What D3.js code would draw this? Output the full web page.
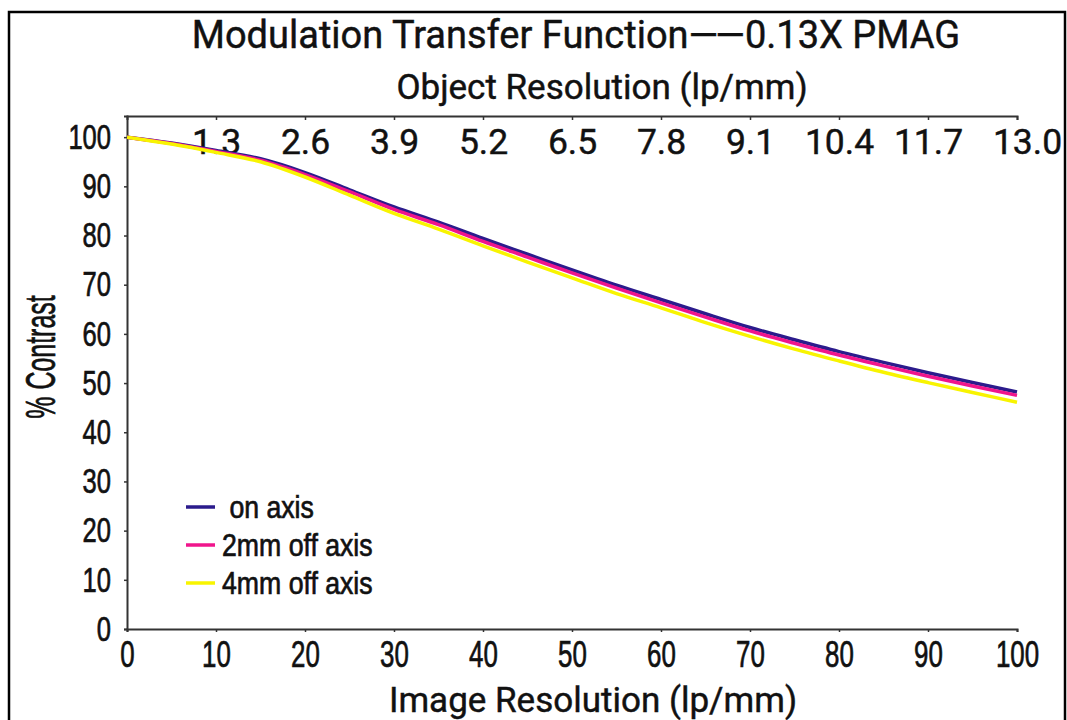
<!DOCTYPE html>
<html>
<head>
<meta charset="utf-8">
<script src="https://cdn.jsdelivr.net/npm/d3@7"></script>
<style>
  body { margin: 0; background: #fff; }
  .narrow { font-family: "Liberation Sans", Arial, sans-serif; stroke: #111; stroke-width: 0.7px; }
  .wide { font-family: Roboto, "Liberation Sans", sans-serif; stroke: #111; stroke-width: 0.45px; }
</style>
</head>
<body>
<div id="container"></div>
<script>
// image resolution (lp/mm) sample points
let imageRes = [0, 5, 10, 15, 20, 25, 30, 35, 40, 45, 50, 55, 60, 65, 70, 75, 80, 85, 90, 95, 100];
let onAxis = [100, 98.8, 97.3, 95.6, 92.8, 89.3, 85.8, 82.7, 79.4, 76.2, 73.0, 69.9, 67.0, 64.1, 61.3, 58.8, 56.4, 54.2, 52.1, 50.1, 48.2];
let off2mm = [100, 98.7, 97.1, 95.3, 92.4, 88.9, 85.3, 82.2, 78.8, 75.6, 72.4, 69.3, 66.3, 63.4, 60.6, 58.1, 55.7, 53.5, 51.4, 49.4, 47.5];
let off4mm = [100, 98.6, 96.9, 95.0, 91.9, 88.2, 84.5, 81.3, 77.9, 74.6, 71.4, 68.2, 65.3, 62.3, 59.5, 56.9, 54.5, 52.2, 50.1, 48.1, 46.1];
let seriesNames = [' on axis', '2mm off axis', '4mm off axis'];
let seriesColors = ['#2b1b8c', '#f0158c', '#f8f400'];
let xTicks = [0, 10, 20, 30, 40, 50, 60, 70, 80, 90, 100];
let yTicks = [0, 10, 20, 30, 40, 50, 60, 70, 80, 90, 100];
let objTicks = [1.3, 2.6, 3.9, 5.2, 6.5, 7.8, 9.1, 10.4, 11.7, 13.0];

let viz = d3.select('#container')
    .append('svg')
    .attr('width', 1067)
    .attr('height', 720)
    ;

// squeeze text horizontally, keeps its anchor point
function condense(sel, sx) {
    sel.each(function () {
        let t = d3.select(this);
        let xv = +t.attr('x') || 0;
        t.attr('x', xv / sx).attr('transform', 'scale(' + sx + ',1)');
    });
}

// outer frame
viz.append('rect')
    .attr('x', 9)
    .attr('y', 12)
    .attr('width', 1056)
    .attr('height', 730)
    .attr('fill', 'none')
    .attr('stroke', 'black')
    .attr('stroke-width', 2.5);

let x = d3.scaleLinear().domain([0, 100]).range([127, 1017]);
let xObj = d3.scaleLinear().domain([0, 13]).range([127, 1017]);
let y = d3.scaleLinear().domain([0, 104.3]).range([629, 116]);

// bottom axis
let bottomAxis = viz.append('g')
    .attr('transform', 'translate(0,629)')
    .call(d3.axisBottom(x).tickValues(xTicks).tickSize(3).tickPadding(9).tickFormat(d3.format('d')));
bottomAxis.selectAll('text').attr('class', 'narrow').attr('font-size', 37).attr('fill', '#111')
    .call(condense, 0.7);

// left axis
let leftAxis = viz.append('g')
    .attr('transform', 'translate(127,0)')
    .call(d3.axisLeft(y).tickValues(yTicks).tickSize(3).tickPadding(13).tickFormat(d3.format('d')));
leftAxis.selectAll('text').attr('class', 'narrow').attr('font-size', 35).attr('fill', '#111')
    .call(condense, 0.73);

// top axis (object resolution), labels hang inside the plot
let topAxis = viz.append('g')
    .attr('transform', 'translate(0,116)')
    .call(d3.axisBottom(xObj).tickValues(objTicks).tickSize(4).tickPadding(9).tickFormat(d3.format('.1f')));
topAxis.selectAll('text').attr('class', 'wide').attr('font-size', 35.5).attr('fill', '#111');
topAxis.selectAll('text').filter(d => d === 13.0).attr('x', 10);

viz.selectAll('.domain').attr('stroke', '#333').attr('stroke-width', 2);
viz.selectAll('.tick line').attr('stroke', '#333').attr('stroke-width', 1.5);

// curves
let allSeries = [onAxis, off2mm, off4mm];
let line = d3.line()
    .x((d, i) => x(imageRes[i]))
    .y(d => y(d))
    .curve(d3.curveMonotoneX);

viz.selectAll('.curve').data(allSeries).enter()
    .append('path')
    .attr('class', 'curve')
    .attr('d', line)
    .attr('fill', 'none')
    .attr('stroke', (d, i) => seriesColors[i])
    .attr('stroke-width', 3.5);

// legend
let legend = viz.selectAll('.legend').data(seriesNames).enter()
    .append('g')
    .attr('class', 'legend')
    .attr('transform', (d, i) => 'translate(186,' + (507 + i * 38) + ')');

legend.append('line')
    .attr('x1', 0).attr('x2', 29)
    .attr('stroke', (d, i) => seriesColors[i])
    .attr('stroke-width', 3.5);

legend.append('text')
    .attr('class', 'narrow')
    .attr('x', 36)
    .attr('y', 11)
    .attr('font-size', 31)
    .attr('xml:space', 'preserve')
    .attr('fill', '#111')
    .text(d => d)
    .call(condense, 0.86);

// titles
let title = viz.append('text')
    .attr('class', 'wide')
    .attr('x', 576).attr('y', 48)
    .attr('text-anchor', 'middle')
    .attr('font-size', 38)
    .attr('fill', '#111');
title.append('tspan').text('Modulation Transfer Function');
title.append('tspan').attr('letter-spacing', -3).text('\u2014\u2014');
title.append('tspan').attr('dx', 3).text('0.13X PMAG');

viz.append('text')
    .attr('class', 'wide')
    .attr('x', 602).attr('y', 99)
    .attr('text-anchor', 'middle')
    .attr('font-size', 35)
    .attr('fill', '#111')
    .text('Object Resolution (lp/mm)');

viz.append('text')
    .attr('class', 'wide')
    .attr('x', 593).attr('y', 712)
    .attr('text-anchor', 'middle')
    .attr('font-size', 35)
    .attr('fill', '#111')
    .text('Image Resolution (lp/mm)');

viz.append('text')
    .attr('class', 'narrow')
    .attr('transform', 'translate(55,357) rotate(-90) scale(0.58,1)')
    .attr('text-anchor', 'middle')
    .attr('font-size', 43)
    .attr('fill', '#111')
    .text('% Contrast');
</script>
</body>
</html>
